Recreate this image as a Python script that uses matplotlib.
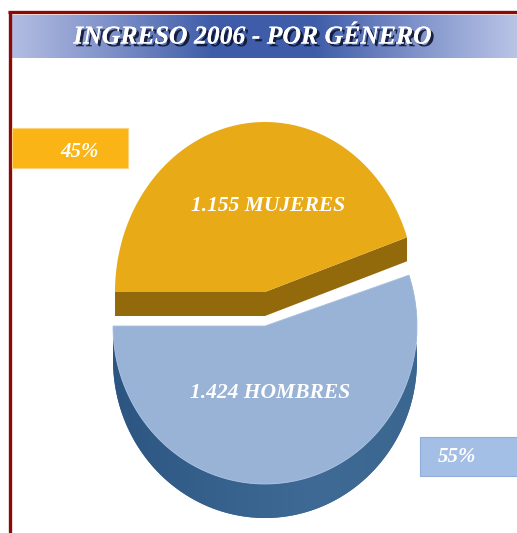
import numpy as np
import matplotlib.pyplot as plt
from matplotlib.patches import Polygon, Rectangle
from matplotlib.colors import LinearSegmentedColormap
import matplotlib.patheffects as pe

title = 'INGRESO 2006 - POR GÉNERO'
genders = ['MUJERES', 'HOMBRES']
counts = [1155, 1424]
top_colors = ['#E8AA16', '#98B3D6']
side_colors = ['#936A0B', '#36618C']
box_colors = ['#FBB416', '#A4BFE6']

shares = np.array(counts) / sum(counts)
pct_labels = ['%d%%' % round(s * 100) for s in shares]
count_labels = ['{:,}'.format(c).replace(',', '.') + ' ' + g for c, g in zip(counts, genders)]

serif = ['Liberation Serif', 'DejaVu Serif']


def arc(cx, cy, rx, ry, t0, t1, n=200):
    t = np.radians(np.linspace(t0, t1, n))
    return np.column_stack([cx + rx * np.cos(t), cy - ry * np.sin(t)])


fig = plt.figure(figsize=(5.17, 5.33), dpi=100)
ax = fig.add_axes([0, 0, 1, 1])

# banner with gradient
banner_cmap = LinearSegmentedColormap.from_list(
    'banner', ['#B3BDE2', '#7C8FC8', '#3E5CA7', '#3F5DA8', '#7F92CA', '#B9C3E6'])
grad = np.linspace(0, 1, 256).reshape(1, -1)
ax.imshow(grad, cmap=banner_cmap, extent=(12, 517, 58, 15), aspect='auto', zorder=1)

# frame lines
ax.plot([8, 517], [12, 12], color='#8A0A0A', lw=2.4, solid_capstyle='butt', zorder=3)
ax.plot([9.5, 9.5], [11, 533], color='#8A0A0A', lw=2.4, solid_capstyle='butt', zorder=3)

ax.text(253, 37, title, ha='center', va='center', color='white', fontsize=18.5,
        fontweight='bold', fontstyle='italic', family=serif, zorder=4,
        path_effects=[pe.withSimplePatchShadow(offset=(2, -2), shadow_rgbFace='#0E1530', alpha=0.9),
                      pe.Normal()])

# 3D pie
t_split = 180 - 360 * shares[0]
t_end = 180 + 360 * shares[1]

# HOMBRES slice (lower)
bcx, bcy, brx, bry, bdepth = 265, 326, 152, 158, 34
top_b = arc(bcx, bcy, brx, bry, 180, t_end)
side_b = np.vstack([top_b, (top_b + [0, bdepth])[::-1]])
side_patch = Polygon(side_b, closed=True, facecolor=side_colors[1], edgecolor='none', zorder=5)
ax.add_patch(side_patch)
side_cmap = LinearSegmentedColormap.from_list('side', ['#2C5681', '#36618C', '#3E6A95', '#3A6690'])
im = ax.imshow(grad, cmap=side_cmap, extent=(bcx - brx, bcx + brx, bcy + bry + bdepth, bcy),
               aspect='auto', zorder=6)
im.set_clip_path(side_patch)
top_poly_b = np.vstack([[bcx, bcy], top_b])
ax.add_patch(Polygon(top_poly_b, closed=True, facecolor=top_colors[1], edgecolor='#A9C1E2',
                     lw=0.6, zorder=7))

# MUJERES slice (upper, exploded)
ocx, ocy, orx, ory, odepth = 265, 292, 150, 170, 24
top_o = arc(ocx, ocy, orx, ory, t_split, 180)
cut = np.array([top_o[-1], [ocx, ocy], top_o[0]])
cut_face = np.vstack([cut, (cut + [0, odepth])[::-1]])
ax.add_patch(Polygon(cut_face, closed=True, facecolor=side_colors[0], edgecolor='none', zorder=8))
top_poly_o = np.vstack([[ocx, ocy], top_o])
ax.add_patch(Polygon(top_poly_o, closed=True, facecolor=top_colors[0], edgecolor='none', zorder=9))

# labels inside slices
ax.text(268, 206, count_labels[0], ha='center', va='center', color='white', fontsize=15.5,
        fontweight='bold', fontstyle='italic', family=serif, zorder=10)
ax.text(270, 393, count_labels[1], ha='center', va='center', color='white', fontsize=15.5,
        fontweight='bold', fontstyle='italic', family=serif, zorder=10)

# percentage boxes
ax.add_patch(Rectangle((12, 128), 116, 40, facecolor=box_colors[0], edgecolor='#FCD27C',
                       lw=0.8, zorder=10))
ax.text(80, 152, pct_labels[0], ha='center', va='center', color='white', fontsize=15,
        fontweight='bold', fontstyle='italic', family=serif, zorder=11)
ax.add_patch(Rectangle((420, 437), 100, 39, facecolor=box_colors[1], edgecolor='#8EADDB',
                       lw=0.8, zorder=10))
ax.text(457, 457, pct_labels[1], ha='center', va='center', color='white', fontsize=15,
        fontweight='bold', fontstyle='italic', family=serif, zorder=11)

ax.set_xlim(0, 517)
ax.set_ylim(533, 0)
ax.axis('off')

fig.savefig('out.png', dpi=100, facecolor='white')
